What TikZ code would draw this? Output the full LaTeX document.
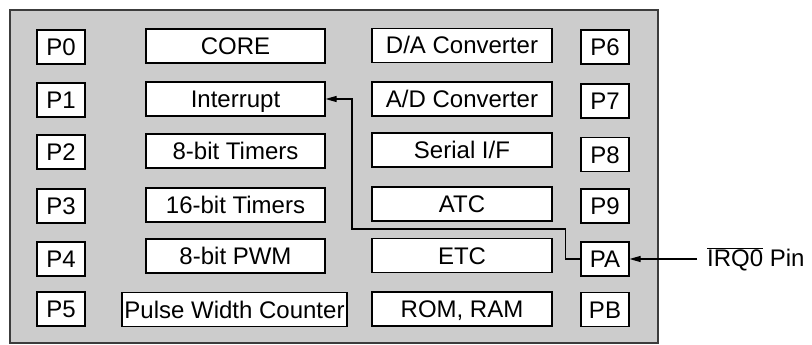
\documentclass[tikz,border=0pt]{standalone}
\usepackage{fontspec}
\setmainfont{Liberation Sans}
\usetikzlibrary{arrows.meta}
\definecolor{panel}{RGB}{204,204,204}
\definecolor{panelline}{RGB}{60,60,60}
\tikzset{
  blk/.style={draw=black, fill=white, line width=1.1pt, inner sep=0pt,
    minimum height=34pt, text height=17pt, text depth=0pt},
  port/.style={blk, minimum width=48pt},
  unitL/.style={blk, minimum width=179pt},
  unitR/.style={blk, minimum width=180pt},
  arr/.style={draw=black, line width=1.1pt, -{Triangle[length=11pt,width=6pt]}},
}
\begin{document}
\begin{tikzpicture}[x=1pt, y=-1pt, font=\fontsize{24pt}{28pt}\selectfont]
\useasboundingbox (0,0) rectangle (812,345);
\draw[fill=panel, draw=panelline, line width=1.4pt] (10,10) rectangle (658,343);
% left ports
\node[port] (p0) at (61,47) {P0};
\node[port] (p1) at (61,100) {P1};
\node[port] (p2) at (61,152) {P2};
\node[port] (p3) at (61,206) {P3};
\node[port] (p4) at (61,259) {P4};
\node[port] (p5) at (61,309) {P5};
% left units
\node[unitL] (core) at (235.5,46) {CORE};
\node[unitL] (intr) at (235.5,99) {Interrupt};
\node[unitL] (t8) at (235.5,151) {8-bit Timers};
\node[unitL] (t16) at (235.5,205) {16-bit Timers};
\node[unitL] (pwm) at (235.5,256) {8-bit PWM};
\node[blk, minimum width=225pt] (pwc) at (234.5,309.5) {Pulse Width Counter};
% right units
\node[unitR] (da) at (462,45.5) {D/A Converter};
\node[unitR] (ad) at (462,99) {A/D Converter};
\node[unitR] (sif) at (462,150) {Serial I/F};
\node[unitR] (atc) at (462,204) {ATC};
\node[unitR] (etc) at (462,255.5) {ETC};
\node[unitR] (mem) at (462,309) {ROM, RAM};
% right ports
\node[port] (p6) at (605,47) {P6};
\node[port] (p7) at (605,101) {P7};
\node[port] (p8) at (605,154.5) {P8};
\node[port] (p9) at (605,206) {P9};
\node[port] (pa) at (605,259) {PA};
\node[port] (pb) at (605,309.5) {PB};
% external pin
\node[anchor=west, inner xsep=10pt, inner ysep=0pt] (irq) at (697,259) {$\overline{\mbox{IRQ0}}$ Pin};
\draw[arr] (irq.west) -- (pa.east);
\draw[arr] (pa.west) -- ++(-15,0) -- ++(0,-30) -- (352,229) |- (intr.east);
\end{tikzpicture}
\end{document}
